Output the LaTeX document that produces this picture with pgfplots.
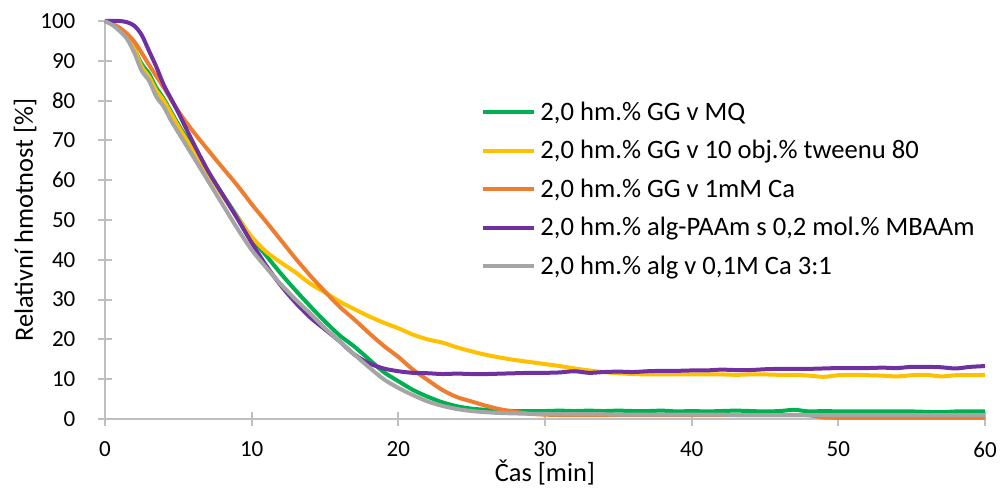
\documentclass[border=0pt]{standalone}
\usepackage{pgfplots}
\pgfplotsset{compat=1.18}
\usepackage{fontspec}
\setmainfont{Carlito}
\definecolor{cgreen}{HTML}{00B050}
\definecolor{cyellow}{HTML}{FFC000}
\definecolor{corange}{HTML}{ED7D31}
\definecolor{cpurple}{HTML}{7030A0}
\definecolor{cgray}{HTML}{A5A5A5}
\definecolor{caxis}{HTML}{BFBFBF}
\begin{document}
\begin{tikzpicture}
\useasboundingbox (-52.5pt,-34pt) rectangle (447.5pt,209.5pt);
\begin{axis}[
  at={(0pt,0pt)}, anchor=south west,
  scale only axis, width=440pt, height=199pt,
  xmin=0, xmax=60, ymin=0, ymax=100,
  xtick={0,10,...,60}, ytick={0,10,...,100},
  axis x line=bottom, axis y line=left,
  axis line style={-, draw=caxis, line width=1pt},
  tick align=center, major tick length=7pt,
  every tick/.style={draw=caxis, line width=1pt},
  /pgf/number format/assume math mode=true,
  tick label style={font=\fontsize{11.5}{13}\selectfont, text=black},
  xticklabel style={yshift=-4.3pt},
  yticklabel style={xshift=-7.8pt},
  xlabel={Čas [min]},
  ylabel={Relativní hmotnost [\%]},
  label style={font=\fontsize{13.2}{15}\selectfont},
  xlabel style={at={(axis description cs:0.5,0)}, anchor=center, yshift=-26.8pt},
  ylabel style={at={(axis description cs:-0.0909,0.5)}, anchor=center},
  clip=false,
  legend style={draw=none, fill=none, at={(axis cs:25.6,57.7)}, anchor=west,
    font=\fontsize{13.3}{16}\selectfont, row sep=4.5pt, inner sep=0pt},
  legend cell align=left,
  legend image code/.code={\draw[#1, line width=2pt] (0pt,0pt) -- (25.8pt,0pt);},
  every axis plot/.append style={line width=2pt, line join=round},
]
% 2,0 hm.% GG v MQ
\addplot[cgreen, smooth] coordinates {
(0,100)(0.5,99.2)(1,97.8)(1.5,96)(2,93)(2.5,89.2)(3,86.8)(3.5,83.2)(4,80.5)(5,74)(6,68)(7,62)(8,56.5)(9,51)(10,45.5)
(11,41)(12,36.5)(13,32.3)(14,28.3)(15,24.5)(16,21)(17,18.2)(18,15)(19,11.8)(20,9.5)
(21,7.3)(22,5.6)(23,4.2)(24,3.2)(25,2.6)(26,2.3)(27,2.1)(28,2.0)(29,2.0)(30,2.0)
(31,2.1)(32,2.0)(33,2.1)(34,2.0)(35,2.1)(36,2.0)(37,2.0)(38,2.1)(39,1.9)(40,2.0)
(41,1.9)(42,2.0)(43,2.1)(44,2.0)(45,1.9)(46,2.0)(47,2.3)(48,1.9)(49,2.0)(50,1.9)
(51,1.9)(52,1.9)(53,1.9)(54,1.9)(55,1.9)(56,1.8)(57,1.7)(58,1.9)(59,1.9)(60,1.9)
};
\addlegendentry{2,0 hm.\% GG v MQ}
% 2,0 hm.% GG v 10 obj.% tweenu 80
\addplot[cyellow, smooth] coordinates {
(0,100)(0.5,99.2)(1,97.8)(1.5,95.8)(2,93)(2.5,88.5)(3,86)(3.5,82.5)(4,80)(5,73.5)(6,67.5)(7,61.8)(8,56.2)(9,50.8)(10,45.8)
(11,42)(12,39.3)(13,36.8)(14,34)(15,31.8)(16,29.5)(17,27.6)(18,25.8)(19,24.2)(20,22.8)
(21,21.2)(22,20)(23,19.2)(24,18)(25,17)(26,16.1)(27,15.4)(28,14.8)(29,14.3)(30,13.8)
(31,13.3)(32,12.7)(33,12.2)(34,11.8)(35,11.5)(36,11.3)(37,11.2)(38,11.2)(39,11.2)(40,11.2)
(41,11.2)(42,11.2)(43,11.1)(44,11.2)(45,11.2)(46,11.1)(47,11.1)(48,10.9)(49,10.6)(50,11.0)
(51,11.1)(52,11.0)(53,10.9)(54,10.7)(55,11.0)(56,11.1)(57,10.7)(58,11.0)(59,11.0)(60,11.1)
};
\addlegendentry{2,0 hm.\% GG v 10 obj.\% tweenu 80}
% 2,0 hm.% GG v 1mM Ca
\addplot[corange, smooth] coordinates {
(0,100)(0.5,99.3)(1,98.3)(1.5,96.8)(2,94.8)(2.5,92)(3,89)(4,83.3)(5,77.3)(6,72.3)(7,67.7)(8,63.2)(9,58.8)(10,54)
(11,49.5)(12,44.9)(13,40.3)(14,36)(15,32)(16,28.2)(17,25)(18,21.6)(19,18.4)(20,15.6)
(21,12.4)(22,9.8)(23,7.3)(24,5.5)(25,4.4)(26,3.3)(27,2.4)(28,1.8)(29,1.3)(30,1.1)
(31,1.0)(32,1.0)(33,1.0)(34,1.0)(35,1.0)(36,1.0)(37,1.0)(38,1.0)(39,1.0)(40,1.0)
(41,1.0)(42,1.0)(43,1.0)(44,1.0)(45,1.0)(46,1.0)(47,1.0)(48,0.9)(49,0.4)(50,0.3)
(51,0.3)(52,0.3)(53,0.3)(54,0.3)(55,0.3)(56,0.3)(57,0.3)(58,0.3)(59,0.3)(60,0.3)
};
\addlegendentry{2,0 hm.\% GG v 1mM Ca}
% 2,0 hm.% alg-PAAm s 0,2 mol.% MBAAm
\addplot[cpurple, smooth] coordinates {
(0,100)(0.5,100)(1,100)(1.5,99.7)(2,98.8)(2.5,96.5)(3,92.5)(3.5,88.5)(4,84)(4.5,80.5)(5,77)(6,69.5)(7,62.5)(8,56.5)(9,50.5)(10,44.3)
(11,38.5)(12,33.5)(13,29.2)(14,25.5)(15,22.5)(16,19.5)(17,16.2)(18,14.0)(19,12.7)(20,12.0)
(21,11.6)(22,11.5)(23,11.3)(24,11.4)(25,11.3)(26,11.3)(27,11.4)(28,11.5)(29,11.6)(30,11.6)
(31,11.7)(32,12.0)(33,11.6)(34,11.8)(35,11.9)(36,11.8)(37,12.0)(38,12.1)(39,12.1)(40,12.2)
(41,12.2)(42,12.4)(43,12.3)(44,12.3)(45,12.5)(46,12.6)(47,12.6)(48,12.6)(49,12.7)(50,12.8)
(51,12.8)(52,12.8)(53,12.9)(54,12.8)(55,13.1)(56,13.1)(57,13.0)(58,12.7)(59,13.1)(60,13.3)
};
\addlegendentry{2,0 hm.\% alg-PAAm s 0,2 mol.\% MBAAm}
% 2,0 hm.% alg v 0,1M Ca 3:1
\addplot[cgray, smooth] coordinates {
(0,100)(0.5,99)(1,97.5)(1.5,95.5)(2,92)(2.5,87.5)(3,85)(3.5,81)(4,78.5)(4.5,75)(5,72)(6,66)(7,60)(8,54)(9,48)(10,42.5)
(11,38)(12,33.8)(13,30)(14,26.5)(15,22.8)(16,19.5)(17,16.2)(18,13)(19,10)(20,7.8)
(21,6.0)(22,4.4)(23,3.3)(24,2.5)(25,2.0)(26,1.7)(27,1.5)(28,1.4)(29,1.3)(30,1.3)
(31,1.2)(32,1.2)(33,1.2)(34,1.2)(35,1.1)(36,1.1)(37,1.1)(38,1.1)(39,1.1)(40,1.1)
(41,1.1)(42,1.1)(43,1.0)(44,1.0)(45,1.0)(46,1.0)(47,1.0)(48,1.0)(49,1.0)(50,1.0)
(51,1.0)(52,1.0)(53,1.0)(54,1.0)(55,1.0)(56,1.0)(57,1.0)(58,1.0)(59,1.0)(60,1.0)
};
\addlegendentry{2,0 hm.\% alg v 0,1M Ca 3:1}
\end{axis}
\end{tikzpicture}
\end{document}
